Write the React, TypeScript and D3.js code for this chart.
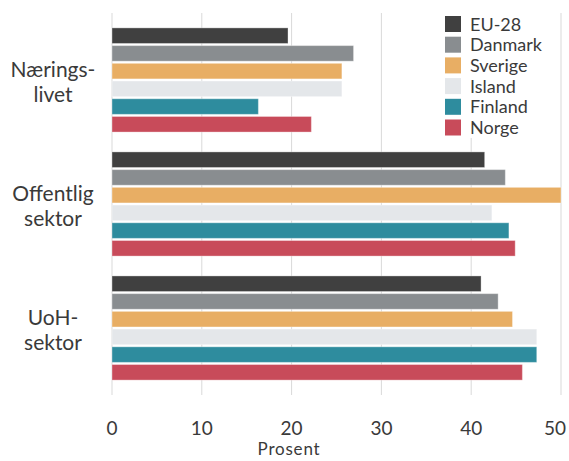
import React, { useEffect, useRef } from "react";
import * as d3 from "d3";

// data
const categories = [["Nærings-", "livet"], ["Offentlig", "sektor"], ["UoH-", "sektor"]];
const seriesNames = ["EU-28", "Danmark", "Sverige", "Island", "Finland", "Norge"];
const seriesColors = ["#404040", "#898d90", "#e8ae64", "#e4e7ea", "#2e8c9e", "#c84b5a"];
const EU28 = [19.6, 41.5, 41.1];
const Danmark = [26.9, 43.8, 43.0];
const Sverige = [25.6, 50.0, 44.6];
const Island = [25.6, 42.3, 47.3];
const Finland = [16.3, 44.2, 47.3];
const Norge = [22.2, 44.9, 45.7];
const xTicks = [0, 10, 20, 30, 40, 50];

const values = [EU28, Danmark, Sverige, Island, Finland, Norge];

const App = () => {
   const ref = useRef<SVGSVGElement>(null);

   useEffect(() => {
      const width = 569;
      const height = 461;
      const font = "Lato, 'Open Sans', sans-serif";
      const textColor = "#3a3a3a";

      const svg = d3.select(ref.current).attr("width", width).attr("height", height);
      svg.selectAll("*").remove();

      const xScale = d3.scaleLinear().domain([0, 50]).range([112, 561]);
      const yScale = d3
         .scaleBand()
         .domain(d3.range(categories.length).map(String))
         .range([13, 395])
         .paddingInner(0.16)
         .paddingOuter(0.12);
      const ySub = d3
         .scaleBand()
         .domain(d3.range(seriesNames.length).map(String))
         .range([0, yScale.bandwidth()])
         .paddingInner(0.12);

      //gridlines
      svg.append("g")
         .selectAll("line")
         .data(xTicks)
         .join("line")
         .attr("x1", (d) => xScale(d))
         .attr("x2", (d) => xScale(d))
         .attr("y1", 13)
         .attr("y2", 395)
         .attr("stroke", "#d9d9d9")
         .attr("stroke-width", 1);

      //bars
      const groups = svg.append("g")
         .selectAll("g")
         .data(categories)
         .join("g")
         .attr("transform", (d, i) => `translate(0, ${yScale(String(i))})`);

      groups.selectAll("rect")
         .data((d, i) => values.map((s, j) => ({ v: s[i], j })))
         .join("rect")
         .attr("x", xScale(0))
         .attr("y", (d) => ySub(String(d.j)) as number)
         .attr("width", (d) => xScale(d.v) - xScale(0))
         .attr("height", ySub.bandwidth())
         .attr("fill", (d) => seriesColors[d.j])
         .attr("stroke", "#ffffff")
         .attr("stroke-opacity", 0.35)
         .attr("stroke-width", 1);

      //category labels
      svg.append("g")
         .selectAll("text")
         .data(categories)
         .join("text")
         .attr("x", 53)
         .attr("y", (d, i) => (yScale(String(i)) as number) + yScale.bandwidth() / 2 - 1)
         .attr("text-anchor", "middle")
         .attr("font-family", font)
         .attr("font-size", 21)
         .attr("fill", textColor)
         .selectAll("tspan")
         .data((d) => d)
         .join("tspan")
         .attr("x", 53)
         .attr("dy", (d, i) => (i === 0 ? "-0.1em" : "1.2em"))
         .text((d) => d);

      //x tick labels
      svg.append("g")
         .selectAll("text")
         .data(xTicks)
         .join("text")
         .attr("x", (d) => Math.min(xScale(d), width - 14))
         .attr("y", 435)
         .attr("text-anchor", "middle")
         .attr("font-family", font)
         .attr("font-size", 19)
         .attr("fill", textColor)
         .text((d) => d);

      svg.append("text")
         .attr("x", 289)
         .attr("y", 455)
         .attr("text-anchor", "middle")
         .attr("font-family", font)
         .attr("font-size", 17)
         .attr("letter-spacing", 0.8)
         .attr("fill", textColor)
         .text("Prosent");

      //legend
      const legend = svg.append("g").attr("transform", "translate(440, 10)");
      legend.append("rect")
         .attr("width", 116)
         .attr("height", 128)
         .attr("fill", "#ffffff");
      const items = legend.selectAll("g.item")
         .data(seriesNames)
         .join("g")
         .attr("class", "item")
         .attr("transform", (d, i) => `translate(5, ${6 + i * 20.7})`);
      items.append("rect")
         .attr("width", 16)
         .attr("height", 16)
         .attr("fill", (d, i) => seriesColors[i]);
      items.append("text")
         .attr("x", 25)
         .attr("y", 14.5)
         .attr("font-family", font)
         .attr("font-size", 18)
         .attr("fill", textColor)
         .text((d) => d);
   }, []);

   return (
      <div>
         <svg ref={ref} style={{ position: "absolute", left: 0, top: 0 }} />
      </div>
   );
};

export default App;
